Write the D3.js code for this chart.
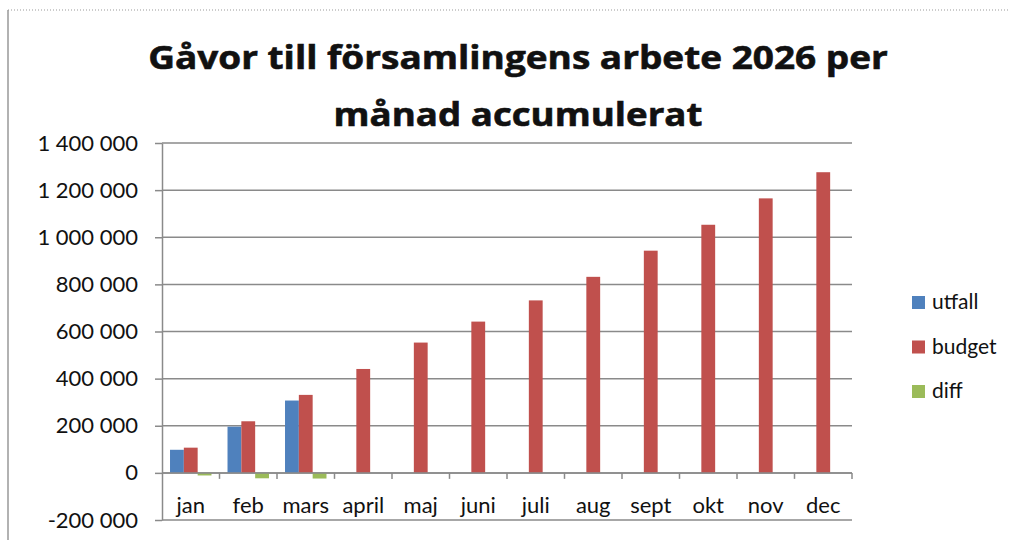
<!DOCTYPE html>
<html>
<head>
<meta charset="utf-8">
<title>Gåvor till församlingens arbete 2026</title>
<style>
body { margin: 0; background: #fff; }
text { font-family: Lato, "Open Sans", sans-serif; fill: #111; }
.grid line { stroke: #8a8a8a; stroke-width: 1.5px; }
.axis path, .axis line { stroke: #8a8a8a; stroke-width: 1.5px; }
</style>
</head>
<body>
<script src="https://cdn.jsdelivr.net/npm/d3@7"></script>
<script>

var months = ["jan", "feb", "mars", "april", "maj", "juni", "juli", "aug", "sept", "okt", "nov", "dec"];
var series = ["utfall", "budget", "diff"];
var utfall = [98000, 196000, 307000, null, null, null, null, null, null, null, null, null];
var budget = [107000, 219000, 331000, 441000, 553000, 642000, 732000, 832000, 943000, 1053000, 1165000, 1276000];
var diff = [-11000, -23000, -24000, null, null, null, null, null, null, null, null, null];
var yTicks = [-200000, 0, 200000, 400000, 600000, 800000, 1000000, 1200000, 1400000];
var colors = ["#4f81bd", "#c0504d", "#9bbb59"];
var titleLines = ["Gåvor till församlingens arbete 2026 per", "månad accumulerat"];

var width = 1017, height = 540;
var plotLeft = 162, plotRight = 852, plotTop = 143, plotBottom = 520;

var svg = d3.select("body").append("svg")
    .attr("width", width)
    .attr("height", height);

// frame of the screenshot
svg.append("line")
    .attr("x1", 8).attr("x2", 1010).attr("y1", 10).attr("y2", 10)
    .style("stroke", "#999").style("stroke-dasharray", "1,2");
svg.append("line")
    .attr("x1", 8).attr("x2", 8).attr("y1", 10).attr("y2", 540)
    .style("stroke", "#999").style("stroke-width", 1.5);

var x = d3.scaleBand().domain(months).range([plotLeft, plotRight]);
var x1 = d3.scaleBand().domain(series).range([0, x.bandwidth()]).paddingOuter(0.58).paddingInner(0);
var y = d3.scaleLinear().domain([-200000, 1400000]).range([plotBottom, plotTop]);

// gridlines
svg.append("g").attr("class", "grid")
  .selectAll("line")
  .data(yTicks)
  .enter().append("line")
    .attr("x1", plotLeft).attr("x2", plotRight)
    .attr("y1", function(d) { return y(d); })
    .attr("y2", function(d) { return y(d); });

// y axis, space as thousands separator
var fmt = function(d) { return d3.format(",")(d).replace(/,/g, " ").replace("−", "-"); };
var yAxis = svg.append("g").attr("class", "axis")
    .attr("transform", "translate(" + plotLeft + ",0)")
    .call(d3.axisLeft(y).tickValues(yTicks).tickSize(7).tickSizeOuter(0).tickPadding(17).tickFormat(fmt));
yAxis.selectAll("text")
    .style("font-family", "Lato, sans-serif")
    .style("font-size", "22px").style("fill", "#111");

// bars
var data = [utfall, budget, diff];
var groups = svg.append("g").selectAll("g")
    .data(series)
    .enter().append("g")
    .style("fill", function(d, i) { return colors[i]; });

groups.selectAll("rect")
    .data(function(s, i) {
        return months.map(function(m, j) { return {month: m, series: s, value: data[i][j]}; })
            .filter(function(d) { return d.value != null; });
    })
    .enter().append("rect")
    .attr("x", function(d) { return x(d.month) + x1(d.series); })
    .attr("width", x1.bandwidth())
    .attr("y", function(d) { return y(Math.max(0, d.value)); })
    .attr("height", function(d) { return Math.abs(y(d.value) - y(0)); });

// x axis at zero, with ticks between categories
var xAxis = svg.append("g").attr("class", "axis");
xAxis.append("line")
    .attr("x1", plotLeft).attr("x2", plotRight)
    .attr("y1", y(0)).attr("y2", y(0));
xAxis.selectAll(".tick")
    .data(d3.range(1, months.length + 1))
    .enter().append("line")
    .attr("x1", function(i) { return plotLeft + i * x.step(); })
    .attr("x2", function(i) { return plotLeft + i * x.step(); })
    .attr("y1", y(0)).attr("y2", y(0) + 6);

svg.append("g").selectAll("text")
    .data(months)
    .enter().append("text")
    .attr("x", function(d) { return x(d) + x.bandwidth() / 2; })
    .attr("y", 513)
    .attr("text-anchor", "middle")
    .style("font-size", "22px")
    .text(function(d) { return d; });

// title: stretch horizontally to the width of the original heavier font
var titleWidths = [740, 369];
svg.append("g").selectAll("text")
    .data(titleLines)
    .enter().append("text")
    .attr("text-anchor", "middle")
    .style("font-family", "'Open Sans', sans-serif")
    .style("font-size", "32px")
    .style("font-weight", "bold")
    .style("stroke", "#111")
    .style("stroke-width", "0.6px")
    .text(function(d) { return d; })
    .attr("transform", function(d, i) {
        var w = this.getComputedTextLength();
        var sx = titleWidths[i] / w;
        return "translate(518," + (69 + i * 57) + ") scale(" + sx + ",1)";
    });

// legend
var legend = svg.append("g").selectAll("g")
    .data(series)
    .enter().append("g")
    .attr("transform", function(d, i) { return "translate(912," + (296 + i * 44.5) + ")"; });
legend.append("rect")
    .attr("width", 13).attr("height", 13)
    .style("fill", function(d, i) { return colors[i]; });
legend.append("text")
    .attr("x", 20).attr("y", 13)
    .style("font-size", "21px")
    .text(function(d) { return d; });

</script>
</body>
</html>
